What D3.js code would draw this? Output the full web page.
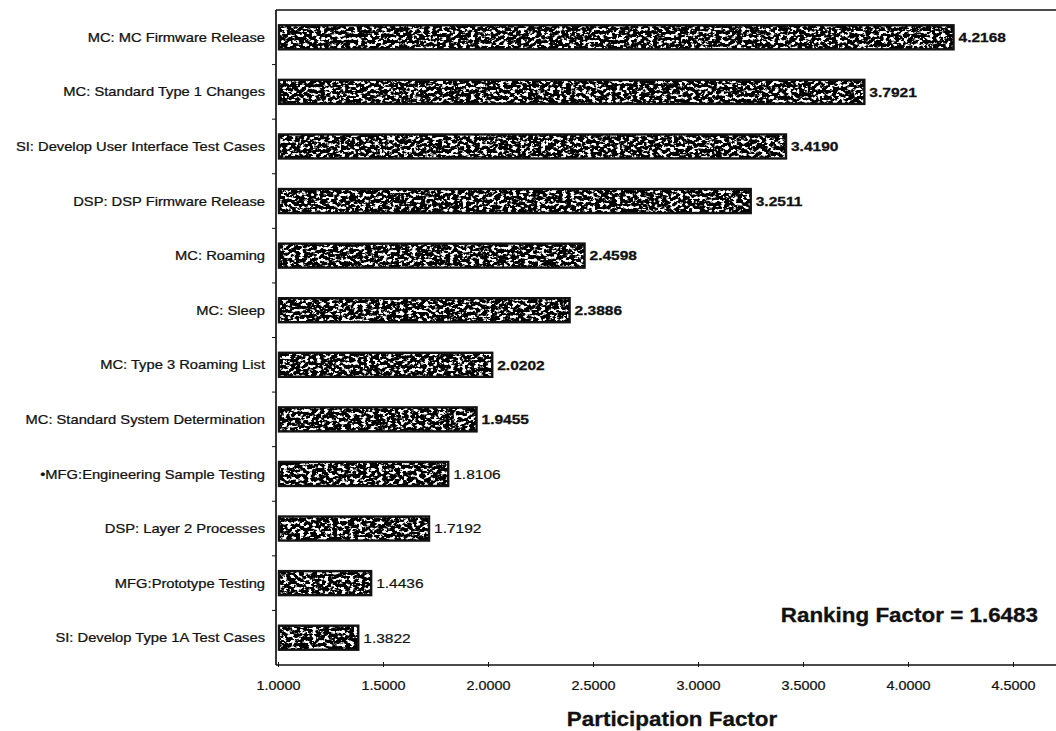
<!DOCTYPE html>
<html>
<head>
<meta charset="utf-8">
<script src="https://cdn.jsdelivr.net/npm/d3@7/dist/d3.min.js"></script>
<style>
  html, body { margin: 0; padding: 0; background: #fff; }
  svg { display: block; }
  text { font-family: "Liberation Sans", Arial, Helvetica, sans-serif; fill: #111; }
</style>
</head>
<body>
<svg id="chart" width="1056" height="731"></svg>
<script>
// Participation factor per task, largest first
const categories = [
  "MC: MC Firmware Release",
  "MC: Standard Type 1 Changes",
  "SI: Develop User Interface Test Cases",
  "DSP: DSP Firmware Release",
  "MC: Roaming",
  "MC: Sleep",
  "MC: Type 3 Roaming List",
  "MC: Standard System Determination",
  "\u2022MFG:Engineering Sample Testing",
  "DSP: Layer 2 Processes",
  "MFG:Prototype Testing",
  "SI: Develop Type 1A Test Cases"
];
const values = [4.2168, 3.7921, 3.4190, 3.2511, 2.4598, 2.3886, 2.0202, 1.9455, 1.8106, 1.7192, 1.4436, 1.3822];
const xTicks = [1.0, 1.5, 2.0, 2.5, 3.0, 3.5, 4.0, 4.5];
const xDomain = [1.0, 4.7];
const rankingFactor = 1.6483;

// Layout & style
const W = 1056, H = 731;
const plot = { left: 278, right: 1055, top: 10, bottom: 665 };
const SX = 1.15;              // horizontal stretch applied to all lettering
const BOLD_LABELS = 8;        // the leading value labels are set in bold
const fmt = d3.format(".4f");

const svg = d3.select("#chart");
const defs = svg.append("defs");

// Speckled bar texture: thresholded noise, black on white
const f = defs.append("filter")
  .attr("id", "speckle")
  .attr("filterUnits", "userSpaceOnUse")
  .attr("x", 0).attr("y", 0).attr("width", W).attr("height", H);
f.append("feTurbulence")
  .attr("type", "fractalNoise")
  .attr("baseFrequency", "0.24 0.32")
  .attr("numOctaves", 3)
  .attr("seed", 11)
  .attr("result", "noise");
f.append("feColorMatrix")
  .attr("in", "noise")
  .attr("type", "matrix")
  .attr("values", "0 0 0 0 0  0 0 0 0 0  0 0 0 0 0  -10 0 0 0 6.1")
  .attr("result", "dots");
f.append("feComposite").attr("in", "dots").attr("in2", "SourceGraphic").attr("operator", "in");

const x = d3.scaleLinear().domain(xDomain).range([plot.left, plot.right]);
const y = d3.scaleBand().domain(categories).range([plot.top, plot.bottom]).paddingInner(0.56).paddingOuter(0.28);
const step = y.step();

// Frame: top rule, left axis, bottom axis
const frame = svg.append("g").attr("stroke", "#111").attr("stroke-width", 1.7).attr("fill", "none");
frame.append("line").attr("x1", plot.left - 2).attr("x2", W).attr("y1", plot.top).attr("y2", plot.top);
frame.append("line").attr("x1", plot.left - 2).attr("x2", plot.left - 2).attr("y1", plot.top).attr("y2", plot.bottom);
frame.append("line").attr("x1", plot.left - 2).attr("x2", W).attr("y1", plot.bottom).attr("y2", plot.bottom);

// Category boundary ticks on the left axis
svg.append("g").attr("stroke", "#111").attr("stroke-width", 1)
  .selectAll("line").data(categories.slice(1)).join("line")
  .attr("x1", plot.left - 6).attr("x2", plot.left - 2)
  .attr("y1", d => y(d) - (step - y.bandwidth()) / 2)
  .attr("y2", d => y(d) - (step - y.bandwidth()) / 2);

// Bottom axis ticks and labels
const xAxis = d3.axisBottom(x).tickValues(xTicks).tickFormat(fmt).tickSize(3).tickSizeOuter(0).tickPadding(14);
const gx = svg.append("g").attr("transform", `translate(0,${plot.bottom - 1})`).call(xAxis);
gx.select(".domain").remove();
gx.selectAll(".tick line").attr("stroke", "#111").attr("y1", -2);
gx.selectAll(".tick text")
  .attr("font-size", 12.5).attr("fill", "#111")
  .attr("stroke", "#111").attr("stroke-width", 0.25)
  .attr("font-family", "'Liberation Sans', Arial, sans-serif")
  .attr("transform", `scale(${SX},1)`);

// Category labels
const gy = svg.append("g").attr("transform", `translate(${plot.left - 2},0)`)
  .call(d3.axisLeft(y).tickSize(0).tickPadding(0));
gy.select(".domain").remove();
gy.selectAll(".tick text")
  .attr("font-size", 12.8).attr("fill", "#111")
  .attr("stroke", "#111").attr("stroke-width", 0.25)
  .attr("font-family", "'Liberation Sans', Arial, sans-serif")
  .attr("x", -11 / SX)
  .attr("dy", "0.36em")
  .attr("transform", `scale(${SX},1)`);

// Bars: white base, speckle, outline
const barX = x(xDomain[0]) + 1;
const bars = svg.append("g").selectAll("g").data(values).join("g");
bars.append("rect")
  .attr("x", barX)
  .attr("y", (d, i) => y(categories[i]))
  .attr("width", d => x(d) - barX)
  .attr("height", y.bandwidth())
  .attr("fill", "#fff");
bars.append("rect")
  .attr("x", barX)
  .attr("y", (d, i) => y(categories[i]))
  .attr("width", d => x(d) - barX)
  .attr("height", y.bandwidth())
  .attr("fill", "#000")
  .attr("filter", "url(#speckle)");
bars.append("rect")
  .attr("x", barX)
  .attr("y", (d, i) => y(categories[i]))
  .attr("width", d => x(d) - barX)
  .attr("height", y.bandwidth())
  .attr("fill", "none")
  .attr("stroke", "#111")
  .attr("stroke-width", 2.4);

// Value labels
bars.append("text")
  .attr("transform", (d, i) => `translate(${x(d) + 5},${y(categories[i]) + y.bandwidth() / 2}) scale(${SX},1)`)
  .attr("dy", "0.36em")
  .attr("font-size", 13.5)
  .attr("stroke", "#111")
  .attr("stroke-width", (d, i) => i < BOLD_LABELS ? 0.3 : 0.2)
  .attr("font-weight", (d, i) => i < BOLD_LABELS ? "bold" : "normal")
  .text(d => fmt(d));

// Ranking factor note
svg.append("text")
  .attr("transform", `translate(1038,622) scale(${SX},1)`)
  .attr("text-anchor", "end")
  .attr("font-size", 19.5)
  .attr("font-weight", "bold")
  .attr("stroke", "#111").attr("stroke-width", 0.3)
  .text(`Ranking Factor = ${fmt(rankingFactor)}`);

// Axis title
svg.append("text")
  .attr("transform", `translate(672,726) scale(${SX},1)`)
  .attr("text-anchor", "middle")
  .attr("font-size", 19.5)
  .attr("font-weight", "bold")
  .attr("stroke", "#111").attr("stroke-width", 0.3)
  .text("Participation Factor");
</script>
</body>
</html>
